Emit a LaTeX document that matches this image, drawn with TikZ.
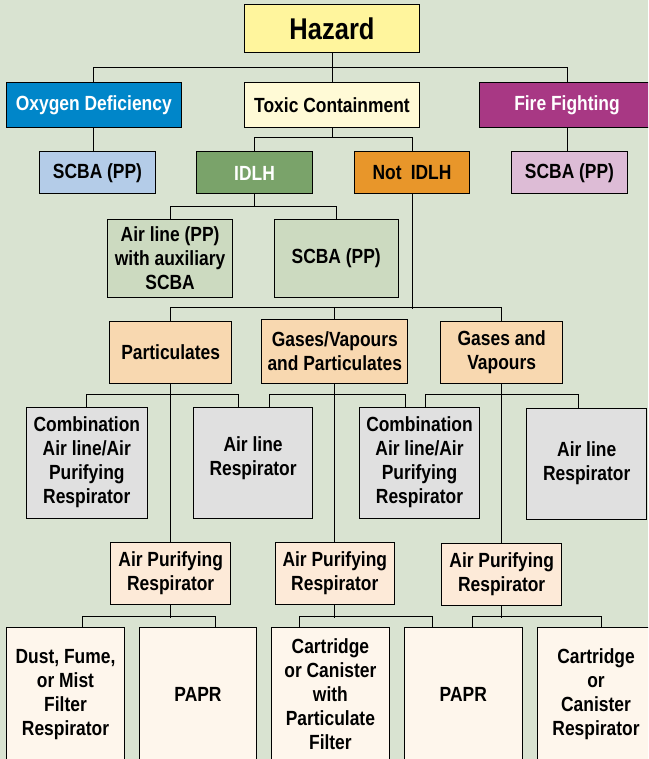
\documentclass[tikz,border=0pt]{standalone}
\usepackage{fontspec}
\newfontfamily\cf{Liberation Sans}[UprightFont={* Bold}, FakeStretch=0.85]
\definecolor{bgc}{RGB}{217,227,209}
\definecolor{hazc}{RGB}{255,245,157}
\definecolor{oxyc}{RGB}{0,134,201}
\definecolor{toxc}{RGB}{255,250,214}
\definecolor{firec}{RGB}{168,56,132}
\definecolor{scbalc}{RGB}{180,204,232}
\definecolor{idlhc}{RGB}{122,163,106}
\definecolor{notc}{RGB}{232,150,42}
\definecolor{scbarc}{RGB}{221,188,214}
\definecolor{grnc}{RGB}{204,218,192}
\definecolor{peachc}{RGB}{248,216,176}
\definecolor{greyc}{RGB}{224,224,224}
\definecolor{aprc}{RGB}{253,234,216}
\definecolor{botc}{RGB}{254,246,236}
\tikzset{
  box/.style={draw=black, line width=1pt, inner sep=0pt, align=center,
    font=\cf\fontsize{20.5}{24}\selectfont},
  txt/.style={inner sep=0pt, align=center, font=\cf\fontsize{20.5}{24}\selectfont},
  conn/.style={draw=black, line width=1pt},
}
\begin{document}
\begin{tikzpicture}[x=1pt,y=-1pt]
\fill[bgc] (0,0) rectangle (648,759);
\useasboundingbox (0,0) rectangle (648,759);
\clip (0,0) rectangle (648,759);
% level 0
\node[box, fill=hazc, minimum width=174.4, minimum height=48, font=\cf\fontsize{30}{34}\selectfont] (hazard) at (332,29) {Hazard};
% level 1
\node[box, fill=oxyc, text=white, minimum width=174.4, minimum height=45] (oxy) at (93.8,105.5) {Oxygen Deficiency};
\node[box, fill=toxc, minimum width=174.4, minimum height=45] (toxic) at (332,105.5) {Toxic Containment};
\node[box, fill=firec, text=white, minimum width=174.4, minimum height=45] (fire) at (567,105.5) {Fire Fighting};
% level 2
\node[box, fill=scbalc, minimum width=115.7, minimum height=42] (scbaL) at (97.5,173) {SCBA (PP)};
\node[box, fill=idlhc, text=white, minimum width=115.7, minimum height=42] (idlh) at (254.5,173) {IDLH};
\node[box, fill=notc, minimum width=115.7, minimum height=42] (notidlh) at (412,173) {Not\hspace{0.45em}IDLH};
\node[box, fill=scbarc, minimum width=115.7, minimum height=42] (scbaR) at (569.5,173) {SCBA (PP)};
% level 3
\node[box, fill=grnc, minimum width=124.4, minimum height=78] (airpp) at (170.1,258) {Air line (PP)\\with auxiliary\\SCBA};
\node[box, fill=grnc, minimum width=124.4, minimum height=78] (scbaM) at (336.2,258) {SCBA (PP)};
% level 4
\node[box, fill=peachc, minimum width=122, minimum height=62] (part) at (170.7,352) {Particulates};
\node[box, fill=peachc, minimum width=146, minimum height=64] (gvp) at (334.8,351) {Gases/Vapours\\and Particulates};
\node[box, fill=peachc, minimum width=122, minimum height=62] (gv) at (501.7,352) {Gases and\\Vapours};
% level 5
\node[box, fill=greyc, minimum width=120.7, minimum height=111] (comb1) at (86.8,462.5) {Combination\\Air line/Air\\Purifying\\Respirator};
\node[box, fill=greyc, minimum width=119.4, minimum height=111] (air1) at (253.1,462.5) {};
\node[txt] (air1t) at ([yshift=4.5pt]air1.center) {Air line\\Respirator};
\node[box, fill=greyc, minimum width=120, minimum height=111] (comb2) at (419.5,462.5) {Combination\\Air line/Air\\Purifying\\Respirator};
\node[box, fill=greyc, minimum width=120.3, minimum height=111] (air2) at (586.7,463.5) {Air line\\Respirator};
% level 6
\node[box, fill=aprc, minimum width=119.5, minimum height=62] (apr1) at (170.7,573) {Air Purifying\\Respirator};
\node[box, fill=aprc, minimum width=119.5, minimum height=62] (apr2) at (334.8,573) {Air Purifying\\Respirator};
\node[box, fill=aprc, minimum width=119.5, minimum height=62] (apr3) at (501.7,574) {Air Purifying\\Respirator};
% level 7
\node[box, fill=botc, minimum width=117.8, minimum height=135] (dust) at (65.5,694.5) {Dust, Fume,\\or Mist\\Filter\\Respirator};
\node[box, fill=botc, minimum width=117.3, minimum height=135] (papr1) at (198,694.5) {PAPR};
\node[box, fill=botc, minimum width=117.8, minimum height=135] (cartf) at (330.4,694.5) {Cartridge\\or Canister\\with\\Particulate\\Filter};
\node[box, fill=botc, minimum width=118.2, minimum height=135] (papr2) at (463.3,694.5) {PAPR};
\node[box, fill=botc, minimum width=117.5, minimum height=135] (cart) at (596,694.5) {Cartridge\\or\\Canister\\Respirator};
% connectors
\draw[conn] (hazard.south) -- (toxic.north);
\draw[conn] (oxy.north) |- ([yshift=15pt]toxic.north) -| (fire.north);
\draw[conn] (oxy.south) -- (oxy.south |- scbaL.north);
\draw[conn] (fire.south) -- (fire.south |- scbaR.north);
\draw[conn] (toxic.south) -- ++(0,10);
\draw[conn] (idlh.north) -- ++(0,-14) -| (notidlh.north);
\draw[conn] (idlh.south) -- ++(0,13);
\draw[conn] (airpp.north) -- ++(0,-12) -| (scbaM.north);
\draw[conn] (notidlh.south) -- ++(0,114);
\draw[conn] (part.north) -- ++(0,-13) -| (gv.north);
\draw[conn] (gvp.north) -- ++(0,-11);
\draw[conn] (part.south) -- (apr1.north);
\draw[conn] (gvp.south) -- (apr2.north);
\draw[conn] (gv.south) -- (apr3.north);
\draw[conn] (comb1.north) -- ++(0,-12) -| ([xshift=-14.6pt]air1.north);
\draw[conn] ([xshift=16.3pt]air1.north) -- ++(0,-12) -| ([xshift=-14.1pt]comb2.north);
\draw[conn] ([xshift=6.2pt]comb2.north) -- ++(0,-12) -| ([xshift=-8.1pt]air2.north);
\draw[conn] (apr1.south) -- ++(0,13);
\draw[conn] ([xshift=17pt]dust.north) -- ++(0,-10) -| ([xshift=17pt]papr1.north);
\draw[conn] (apr2.south) -- ++(0,13);
\draw[conn] ([xshift=-30.5pt]cartf.north) -- ++(0,-10) -| ([xshift=-31pt]papr2.north);
\draw[conn] (apr3.south) -- ++(0,12);
\draw[conn] ([xshift=9pt]papr2.north) -- ++(0,-10) -| ([xshift=5.7pt]cart.north);
\end{tikzpicture}
\end{document}
